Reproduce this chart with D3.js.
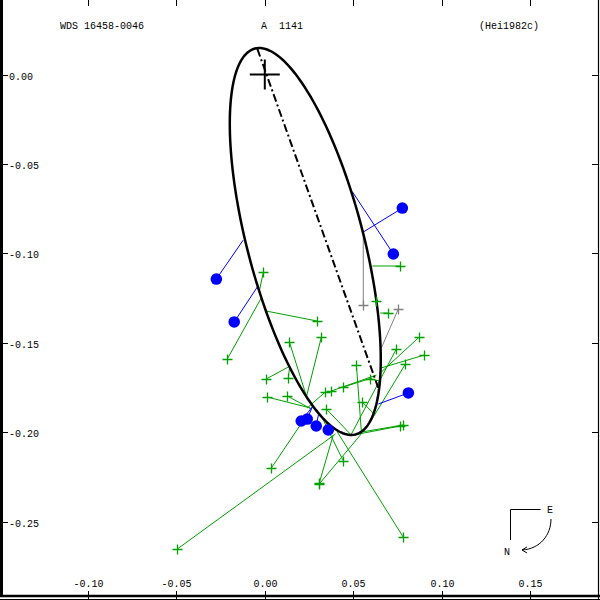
<!DOCTYPE html>
<html><head><meta charset="utf-8">
<script src="https://cdn.jsdelivr.net/npm/d3@7"></script>
<style>body{margin:0;background:#fff}svg{display:block}text{font-family:"Liberation Mono","DejaVu Sans Mono",monospace;font-size:10px;fill:#000}</style>
</head><body><div id="chart"></div>
<script>
// ---- data (arcsec offsets as plotted) ----
const xTicks = [-0.10, -0.05, 0.00, 0.05, 0.10, 0.15];
const yTicks = [0.00, -0.05, -0.10, -0.15, -0.20, -0.25];
const titleLeft = "WDS 16458-0046";
const titleMid = "A  1141";
const titleRight = "(Hei1982c)";
// apparent orbit ellipse: centre and two conjugate semi-axis vectors
const orbitCenter = [0.0229, -0.0934];
const orbitAxisMajor = [0.0285, -0.1079];
const orbitAxisMinor = [0.0318, 0.0082];
// line of nodes end points
const nodeLine = [[-0.0042, 0.0143], [0.0642, -0.1753]];
// blue (interferometric) measures: observed x,y and predicted x,y
const blueObsX = [-0.0274, -0.0173, 0.0778, 0.0727, 0.0812, 0.0206, 0.0240, 0.0291, 0.0359];
const blueObsY = [-0.1144, -0.1384, -0.0747, -0.1004, -0.1781, -0.1938, -0.1927, -0.1966, -0.1988];
const bluePredX = [-0.0122, -0.0042, 0.0557, 0.0495, 0.0642, 0.0269, 0.0269, 0.0303, 0.0348];
const bluePredY = [-0.0926, -0.1188, -0.0881, -0.0655, -0.1843, -0.1859, -0.1859, -0.1904, -0.1938];
// green (micrometer) measures
const greenObsX = [-0.0008, -0.0212, 0.0297, 0.0139, 0.0320, 0.0008, 0.0133, 0.0014, 0.0127, 0.0037, -0.0495, 0.0444, 0.0308, 0.0308, 0.0783, 0.0766, 0.0783, 0.0766, 0.0699, 0.0874, 0.0902, 0.0744, 0.0795, 0.0518, 0.0444, 0.0376, 0.0342, 0.0551, 0.0348, 0.0597, 0.0631];
const greenObsY = [-0.1105, -0.1591, -0.1379, -0.1496, -0.1468, -0.1703, -0.1697, -0.1804, -0.1798, -0.2201, -0.2654, -0.2161, -0.2285, -0.2290, -0.2587, -0.1966, -0.1960, -0.1071, -0.1334, -0.1468, -0.1569, -0.1535, -0.1620, -0.1625, -0.1748, -0.1770, -0.1776, -0.1832, -0.1871, -0.1703, -0.1264];
const greenPredX = [-0.0031, -0.0020, 0.0008, 0.0235, 0.0235, 0.0133, 0.0139, 0.0257, 0.0263, 0.0235, 0.0399, 0.0325, 0.0387, 0.0551, 0.0410, 0.0529, 0.0551, 0.0608, 0.0653, 0.0659, 0.0659, 0.0484, 0.0597, 0.0546, 0.0608, 0.0631, 0.0240, 0.0620, 0.0484, 0.0648, 0.0640];
const greenPredY = [-0.1211, -0.1250, -0.1323, -0.1798, -0.1804, -0.1636, -0.1647, -0.1865, -0.1871, -0.1910, -0.2011, -0.1921, -0.2016, -0.2004, -0.1999, -0.2011, -0.1999, -0.1071, -0.1334, -0.1664, -0.1641, -0.2022, -0.1943, -0.1994, -0.1697, -0.1681, -0.1865, -0.1900, -0.2011, -0.1714, -0.1264];
// grey (low weight) measures
const greyObsX = [0.0557, 0.0755];
const greyObsY = [-0.1289, -0.1312];
const greyPredX = [0.0557, 0.0659];
const greyPredY = [-0.0881, -0.1530];

const W = 600, H = 600;
const svg = d3.select("#chart").append("svg").attr("width", W).attr("height", H);
const x = d3.scaleLinear().domain([-0.10, 0.15]).range([88, 530]);
const y = d3.scaleLinear().domain([0.00, -0.25]).range([74.5, 521.5]);

// frame
const frame = [[1.5, 0, 1.5, 597, 3], [0, 596, 600, 596, 2.5], [0, 599.5, 600, 599.5, 1], [598.5, 0, 598.5, 600, 1.2]];
frame.forEach(f => svg.append("line").attr("x1", f[0]).attr("y1", f[1]).attr("x2", f[2]).attr("y2", f[3])
  .attr("stroke", "#000").attr("stroke-width", f[4]));

// x ticks (top and bottom) and labels
xTicks.forEach(v => {
  const px = Math.round(x(v)) + 0.5;
  svg.append("line").attr("x1", px).attr("x2", px).attr("y1", 0).attr("y2", 6).attr("stroke", "#000");
  svg.append("line").attr("x1", px).attr("x2", px).attr("y1", 591).attr("y2", 600).attr("stroke", "#000");
  svg.append("text").attr("x", px).attr("y", 587).attr("text-anchor", "middle").text(d3.format(".2f")(v).replace("−", "-"));
});
// y ticks (left and right) and labels
yTicks.forEach(v => {
  const py = Math.round(y(v)) + 0.5;
  svg.append("line").attr("x1", 3).attr("x2", 8).attr("y1", py).attr("y2", py).attr("stroke", "#000");
  svg.append("line").attr("x1", 592).attr("x2", 598).attr("y1", py).attr("y2", py).attr("stroke", "#000");
  svg.append("text").attr("x", 9).attr("y", py + 4).text(d3.format(".2f")(v).replace("−", "-"));
});

// titles
svg.append("text").attr("x", 60).attr("y", 29).text(titleLeft);
svg.append("text").attr("x", 261).attr("y", 29).text(titleMid).attr("xml:space", "preserve").style("white-space", "pre");
svg.append("text").attr("x", 539).attr("y", 29).attr("text-anchor", "end").text(titleRight);

// O-C lines
const gL = svg.append("g");
function ocLines(ox, oy, px, py, color) {
  ox.forEach((v, i) => {
    gL.append("line").attr("x1", x(v)).attr("y1", y(oy[i])).attr("x2", x(px[i])).attr("y2", y(py[i]))
      .attr("stroke", color).attr("stroke-width", 1);
  });
}
ocLines(greenObsX, greenObsY, greenPredX, greenPredY, "#00a000");
ocLines(greyObsX, greyObsY, greyPredX, greyPredY, "#808080");
ocLines(blueObsX, blueObsY, bluePredX, bluePredY, "#0000ff");

// orbit ellipse
const tt = d3.range(0, 361, 2).map(d => d * Math.PI / 180);
const ellPts = tt.map(t => [
  orbitCenter[0] + orbitAxisMajor[0] * Math.cos(t) + orbitAxisMinor[0] * Math.sin(t),
  orbitCenter[1] + orbitAxisMajor[1] * Math.cos(t) + orbitAxisMinor[1] * Math.sin(t)]);
svg.append("path").attr("d", d3.line().x(d => x(d[0])).y(d => y(d[1])).curve(d3.curveLinearClosed)(ellPts))
  .attr("fill", "none").attr("stroke", "#000").attr("stroke-width", 2.5);
// line of nodes
svg.append("line").attr("x1", x(nodeLine[0][0])).attr("y1", y(nodeLine[0][1]))
  .attr("x2", x(nodeLine[1][0])).attr("y2", y(nodeLine[1][1]))
  .attr("stroke", "#000").attr("stroke-width", 2).attr("stroke-dasharray", "8,3,2,3");
// primary cross
svg.append("line").attr("x1", x(0) - 15).attr("x2", x(0) + 15).attr("y1", y(0)).attr("y2", y(0)).attr("stroke", "#000").attr("stroke-width", 2);
svg.append("line").attr("x1", x(0)).attr("x2", x(0)).attr("y1", y(0) - 15).attr("y2", y(0) + 15).attr("stroke", "#000").attr("stroke-width", 2);

// markers
function plus(ox, oy, color) {
  ox.forEach((v, i) => {
    const cx = Math.round(x(v)) + 0.5, cy = Math.round(y(oy[i])) + 0.5;
    svg.append("path").attr("d", `M${cx - 5},${cy}H${cx + 5}M${cx},${cy - 5}V${cy + 5}`).attr("stroke", color).attr("stroke-width", 1.3);
  });
}
plus(greenObsX, greenObsY, "#00a000");
plus(greyObsX, greyObsY, "#808080");
blueObsX.forEach((v, i) => {
  svg.append("circle").attr("cx", x(v)).attr("cy", y(blueObsY[i])).attr("r", 5.8).attr("fill", "#0000ff");
});

// compass
svg.append("path").attr("d", "M540.5,509.5H510.5V540").attr("fill", "none").attr("stroke", "#000");
svg.append("text").attr("x", 547).attr("y", 513).text("E");
svg.append("text").attr("x", 504).attr("y", 555).text("N");
svg.append("path").attr("d", "M551,519C551,535 540,549 522,550").attr("fill", "none").attr("stroke", "#000");
svg.append("path").attr("d", "M522,550L527,547M522,550L527,553").attr("fill", "none").attr("stroke", "#000");
</script></body></html>
